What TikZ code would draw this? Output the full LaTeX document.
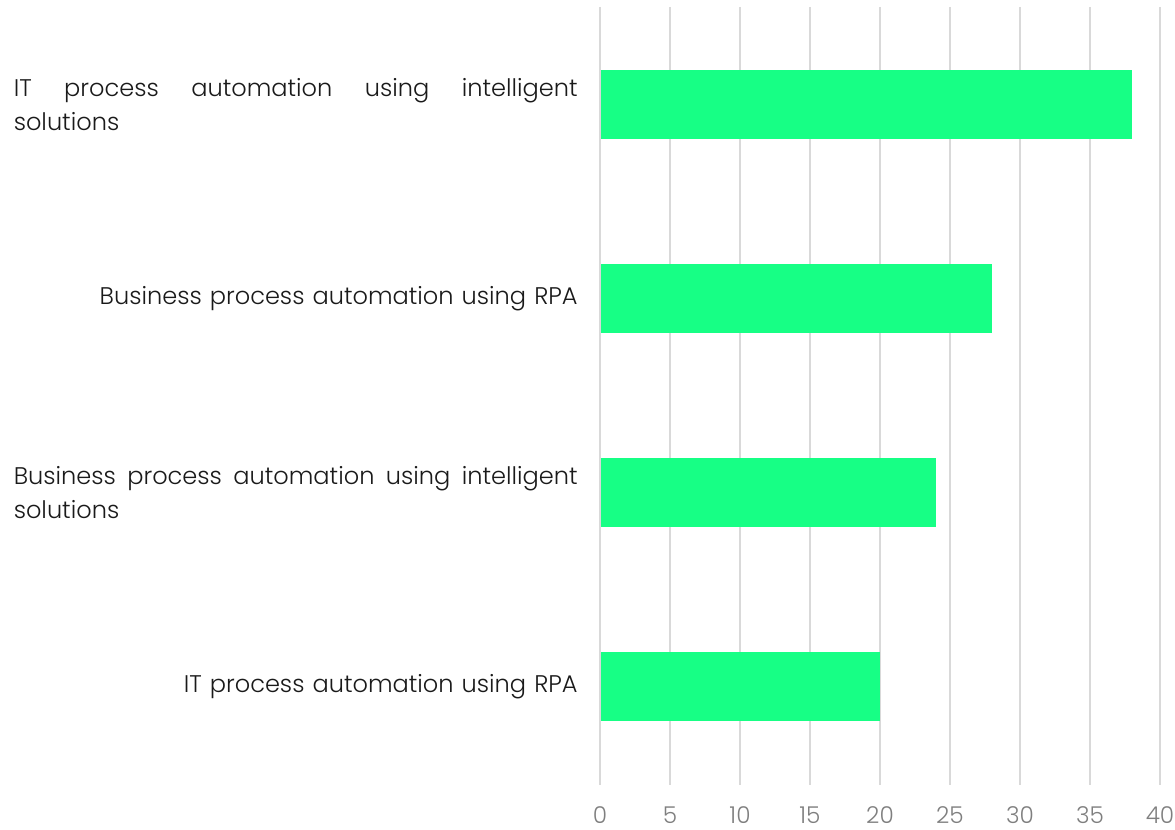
\documentclass[tikz,border=0pt]{standalone}
\usepackage{fontspec}
\setmainfont{Poppins}[UprightFont={* Light}]
\usetikzlibrary{positioning}
\definecolor{Bar}{HTML}{17FF85}
\definecolor{Grid}{HTML}{D9D9D9}
\definecolor{Tick}{HTML}{7F7F7F}
\definecolor{Ink}{HTML}{1A1A1A}
\tikzset{
  lab/.style={font=\fontsize{13.7}{18.9}\selectfont,text=Ink,text width=11.28cm,inner sep=0pt},
  tick/.style={font=\fontsize{13.2}{16}\selectfont,text=Tick,inner sep=0pt,anchor=base}
}

\begin{document}
\begin{tikzpicture}[x=0.02cm,y=-0.02cm]
  \useasboundingbox (0,0) rectangle (1175,830);
  % vertical grid and axis numbers
  \foreach \v in {0,5,...,40}{
    \draw[Grid,line width=0.04cm] ({600+14*\v},7) -- ({600+14*\v},785);
    \node[tick] (t\v) at ({600+14*\v},823) {\v};
  }
  % bars
  \foreach \val/\y/\nm in {38/104.5/a,28/298.5/b,24/492.5/c,20/686.5/d}{
    \fill[Bar] (601,\y-34.5) rectangle ({600+14*\val},\y+34.5);
    \coordinate (bar\nm) at (601,\y);
  }
  % category labels
  \node[lab,align=justify,left=0.46cm of bara] (la) {IT process automation using intelligent\linebreak solutions};
  \node[lab,align=right,left=0.46cm of barb] (lb) {Business process automation using RPA};
  \node[lab,align=justify,left=0.46cm of barc] (lc) {Business process automation using intelligent\linebreak solutions};
  \node[lab,align=right,left=0.46cm of bard] (ld) {IT process automation using RPA};
\end{tikzpicture}
\end{document}
